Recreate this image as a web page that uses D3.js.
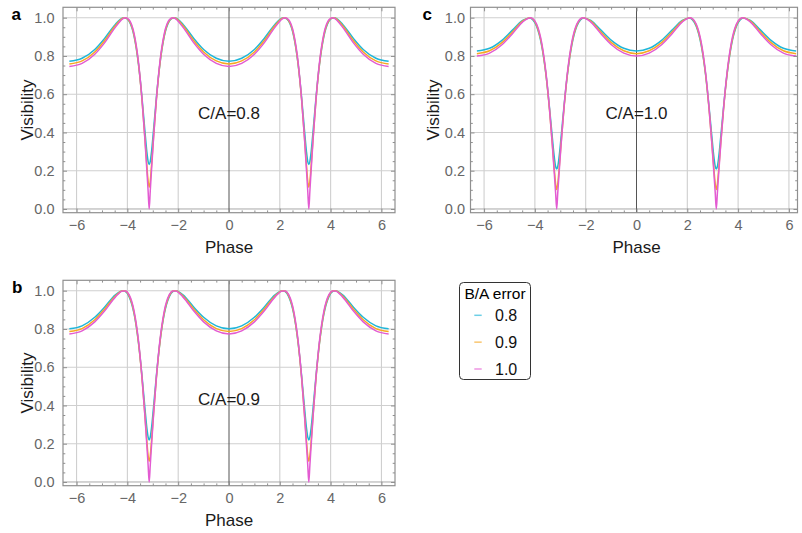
<!DOCTYPE html>
<html><head><meta charset="utf-8">
<script src="https://cdn.jsdelivr.net/npm/d3@7"></script>
<style>
body{margin:0;background:#fff;}
svg{display:block;font-family:"Liberation Sans",Arial,sans-serif;}
</style></head><body>
<svg id="chart" width="802" height="533"></svg>
<script>
// ---------------- data ----------------
const phase = [-6.2832,-5.7832,-5.2832,-4.8832,-4.4832,-4.1832,-4.0832,-3.9332,-3.7332,-3.5632,-3.4232,-3.3132,-3.2332,-3.1832,-3.1416,
 -3.1,-3.05,-2.97,-2.86,-2.72,-2.55,-2.35,-2.2,-2.1,-1.8,-1.4,-1.0,-0.5,0,
 0.5,1.0,1.4,1.8,2.1,2.2,2.35,2.55,2.72,2.86,2.97,3.05,3.1,3.1416,
 3.1832,3.2332,3.3132,3.4232,3.5632,3.7332,3.9332,4.0832,4.1832,4.4832,4.8832,5.2832,5.7832,6.2832];

// panel a : C/A = 0.8
const visA08 = [0.772,0.788,0.834,0.894,0.963,0.998,0.999,0.982,0.901,0.757,0.580,0.413,0.298,0.248,0.233,
 0.248,0.298,0.413,0.580,0.757,0.901,0.982,0.999,0.998,0.963,0.894,0.834,0.788,0.772,
 0.788,0.834,0.894,0.963,0.998,0.999,0.982,0.901,0.757,0.580,0.413,0.298,0.248,0.233,
 0.248,0.298,0.413,0.580,0.757,0.901,0.982,0.999,0.998,0.963,0.894,0.834,0.788,0.772];
const visA09 = [0.758,0.774,0.821,0.882,0.956,0.997,1.000,0.985,0.907,0.759,0.567,0.376,0.227,0.145,0.114,
 0.145,0.227,0.376,0.567,0.759,0.907,0.985,1.000,0.997,0.956,0.882,0.821,0.774,0.758,
 0.774,0.821,0.882,0.956,0.997,1.000,0.985,0.907,0.759,0.567,0.376,0.227,0.145,0.114,
 0.145,0.227,0.376,0.567,0.759,0.907,0.985,1.000,0.997,0.956,0.882,0.821,0.774,0.758];
const visA10 = [0.745,0.761,0.809,0.871,0.948,0.994,1.000,0.989,0.915,0.768,0.571,0.370,0.203,0.093,0.000,
 0.093,0.203,0.370,0.571,0.768,0.915,0.989,1.000,0.994,0.948,0.871,0.809,0.761,0.745,
 0.761,0.809,0.871,0.948,0.994,1.000,0.989,0.915,0.768,0.571,0.370,0.203,0.093,0.000,
 0.093,0.203,0.370,0.571,0.768,0.915,0.989,1.000,0.994,0.948,0.871,0.809,0.761,0.745];

// panel b : C/A = 0.9
const visB08 = [0.801,0.816,0.861,0.916,0.977,1.000,0.996,0.969,0.877,0.728,0.552,0.392,0.282,0.234,0.220,
 0.234,0.282,0.392,0.552,0.728,0.877,0.969,0.996,1.000,0.977,0.916,0.861,0.816,0.801,
 0.816,0.861,0.916,0.977,1.000,0.996,0.969,0.877,0.728,0.552,0.392,0.282,0.234,0.220,
 0.234,0.282,0.392,0.552,0.728,0.877,0.969,0.996,1.000,0.977,0.916,0.861,0.816,0.801];
const visB09 = [0.787,0.802,0.848,0.906,0.971,1.000,0.998,0.974,0.883,0.729,0.540,0.356,0.214,0.137,0.108,
 0.137,0.214,0.356,0.540,0.729,0.883,0.974,0.998,1.000,0.971,0.906,0.848,0.802,0.787,
 0.802,0.848,0.906,0.971,1.000,0.998,0.974,0.883,0.729,0.540,0.356,0.214,0.137,0.108,
 0.137,0.214,0.356,0.540,0.729,0.883,0.974,0.998,1.000,0.971,0.906,0.848,0.802,0.787];
const visB10 = [0.774,0.790,0.837,0.896,0.965,0.999,0.999,0.979,0.892,0.739,0.544,0.350,0.191,0.087,0.000,
 0.087,0.191,0.350,0.544,0.739,0.892,0.979,0.999,0.999,0.965,0.896,0.837,0.790,0.774,
 0.790,0.837,0.896,0.965,0.999,0.999,0.979,0.892,0.739,0.544,0.350,0.191,0.087,0.000,
 0.087,0.191,0.350,0.544,0.739,0.892,0.979,0.999,0.999,0.965,0.896,0.837,0.790,0.774];

// panel c : C/A = 1.0
const visC08 = [0.826,0.840,0.883,0.935,0.986,0.999,0.989,0.955,0.854,0.702,0.528,0.373,0.268,0.222,0.209,
 0.222,0.268,0.373,0.528,0.702,0.854,0.955,0.989,0.999,0.986,0.935,0.883,0.840,0.826,
 0.840,0.883,0.935,0.986,0.999,0.989,0.955,0.854,0.702,0.528,0.373,0.268,0.222,0.209,
 0.222,0.268,0.373,0.528,0.702,0.854,0.955,0.989,0.999,0.986,0.935,0.883,0.840,0.826];
const visC09 = [0.812,0.827,0.871,0.925,0.982,1.000,0.993,0.961,0.861,0.703,0.516,0.339,0.204,0.130,0.102,
 0.130,0.204,0.339,0.516,0.703,0.861,0.961,0.993,1.000,0.982,0.925,0.871,0.827,0.812,
 0.827,0.871,0.925,0.982,1.000,0.993,0.961,0.861,0.703,0.516,0.339,0.204,0.130,0.102,
 0.130,0.204,0.339,0.516,0.703,0.861,0.961,0.993,1.000,0.982,0.925,0.871,0.827,0.812];
const visC10 = [0.800,0.815,0.860,0.916,0.977,1.000,0.995,0.967,0.870,0.712,0.520,0.333,0.182,0.083,0.000,
 0.083,0.182,0.333,0.520,0.712,0.870,0.967,0.995,1.000,0.977,0.916,0.860,0.815,0.800,
 0.815,0.860,0.916,0.977,1.000,0.995,0.967,0.870,0.712,0.520,0.333,0.182,0.083,0.000,
 0.083,0.182,0.333,0.520,0.712,0.870,0.967,0.995,1.000,0.977,0.916,0.860,0.815,0.800];

const baSeries = ["0.8", "0.9", "1.0"];          // legend entries (B/A error)
const caLabels = ["C/A=0.8", "C/A=0.9", "C/A=1.0"];
const xTicks = [-6, -4, -2, 0, 2, 4, 6];
const yTicks = [0, 0.2, 0.4, 0.6, 0.8, 1.0];
const colors = ["#1fb6d8", "#f6a823", "#e35bd2"];

// ---------------- layout ----------------
const svg = d3.select("#chart");
const FONT = "'Liberation Sans',Arial,sans-serif";
const frameCol = "#8f8f8f";
const panels = [
  {letter:"a", label:caLabels[0], series:[visA08, visA09, visA10], left:63, top:7.3, bottom:212.7, right:395,
   yPad:8.5, labelV:0.5, letterX:11.5, letterY:19.5, ylabX:33, phaseY:252.5},
  {letter:"b", label:caLabels[1], series:[visB08, visB09, visB10], left:63, top:280.3, bottom:485.7, right:395,
   yPad:8.5, labelV:0.435, letterX:12, letterY:293, ylabX:33, phaseY:526},
  {letter:"c", label:caLabels[2], series:[visC08, visC09, visC10], left:470.5, top:7.3, bottom:212.7, right:797.5,
   yPad:5.5, labelV:0.5, letterX:422.5, letterY:19.5, ylabX:438.5, phaseY:252.5}
];
const xDomain = [-6.534, 6.534];
const yDomain = [-0.0195, 1.0543];
const fmtX = d => d < 0 ? "\u2212" + Math.abs(d) : String(d);

function styleAxis(sel, fs) {
  sel.select(".domain").remove();
  sel.selectAll(".tick line").attr("stroke", frameCol).attr("stroke-width", 1);
  sel.selectAll(".tick text").attr("fill", "#666").style("font-size", fs + "px").style("font-family", FONT);
}

panels.forEach(p => {
  const g = svg.append("g");
  const x = d3.scaleLinear().domain(xDomain).range([p.left, p.left + 332]);
  const y = d3.scaleLinear().domain(yDomain).range([p.bottom, p.top]);
  const xMinor = d3.range(-13, 14).map(i => i * 0.5)
     .filter(v => Math.abs(v % 2) > 1e-9 && x(v) > p.left + 1 && x(v) < p.right - 1);
  const yMinor = d3.range(0, 22).map(i => i * 0.05)
     .filter(v => Math.abs((v / 0.2) - Math.round(v / 0.2)) > 1e-6 && y(v) > p.top + 1);

  // grid
  g.selectAll(".gx").data(xTicks.filter(d => d !== 0)).join("line")
    .attr("x1", d => x(d)).attr("x2", d => x(d)).attr("y1", p.top).attr("y2", p.bottom)
    .attr("stroke", "#cfcfcf").attr("stroke-width", 1.1);
  g.selectAll(".gy").data(yTicks.filter(d => d !== 0)).join("line")
    .attr("x1", p.left).attr("x2", p.right).attr("y1", d => y(d)).attr("y2", d => y(d))
    .attr("stroke", "#cfcfcf").attr("stroke-width", 1.1);
  // axes lines through origin
  g.append("line").attr("x1", p.left).attr("x2", p.right).attr("y1", y(0)).attr("y2", y(0))
    .attr("stroke", "#a8a8a8").attr("stroke-width", 1);
  g.append("line").attr("x1", x(0)).attr("x2", x(0)).attr("y1", p.top).attr("y2", p.bottom)
    .attr("stroke", "#555").attr("stroke-width", 1);

  // curves
  const line = d3.line().x((d, i) => x(phase[i])).y(d => y(d)).curve(d3.curveMonotoneX);
  p.series.forEach((s, k) => {
    g.append("path").attr("d", line(s)).attr("fill", "none")
      .attr("stroke", colors[k]).attr("stroke-width", 1.5);
  });

  // frame ticks
  g.append("g").attr("transform", `translate(0,${p.bottom})`)
    .call(d3.axisBottom(x).tickValues(xTicks).tickSize(-4).tickPadding(7).tickFormat(fmtX))
    .call(s => styleAxis(s, 14.5));
  g.append("g").attr("transform", `translate(0,${p.bottom})`)
    .call(d3.axisBottom(x).tickValues(xMinor).tickSize(-2.3).tickFormat(""))
    .call(s => styleAxis(s, 14.5));
  g.append("g").attr("transform", `translate(0,${p.top})`)
    .call(d3.axisTop(x).tickValues(xTicks).tickSize(-4).tickFormat(""))
    .call(s => styleAxis(s, 14.5));
  g.append("g").attr("transform", `translate(0,${p.top})`)
    .call(d3.axisTop(x).tickValues(xMinor).tickSize(-2.3).tickFormat(""))
    .call(s => styleAxis(s, 14.5));
  g.append("g").attr("transform", `translate(${p.left},0)`)
    .call(d3.axisLeft(y).tickValues(yTicks).tickSize(-4).tickPadding(p.yPad).tickFormat(d3.format(".1f")))
    .call(s => styleAxis(s, 14.5));
  g.append("g").attr("transform", `translate(${p.left},0)`)
    .call(d3.axisLeft(y).tickValues(yMinor).tickSize(-2.3).tickFormat(""))
    .call(s => styleAxis(s, 14.5));
  g.append("g").attr("transform", `translate(${p.right},0)`)
    .call(d3.axisRight(y).tickValues(yTicks).tickSize(-4).tickFormat(""))
    .call(s => styleAxis(s, 14.5));
  g.append("g").attr("transform", `translate(${p.right},0)`)
    .call(d3.axisRight(y).tickValues(yMinor).tickSize(-2.3).tickFormat(""))
    .call(s => styleAxis(s, 14.5));

  // frame
  g.append("rect").attr("x", p.left).attr("y", p.top)
    .attr("width", p.right - p.left).attr("height", p.bottom - p.top)
    .attr("fill", "none").attr("stroke", frameCol).attr("stroke-width", 1.2);

  // texts
  g.append("text").attr("x", x(0)).attr("y", p.phaseY).attr("text-anchor", "middle")
    .style("font-size", "17px").attr("fill", "#1a1a1a").text("Phase");
  g.append("text").attr("transform", `translate(${p.ylabX},${(p.top + p.bottom) / 2}) rotate(-90)`)
    .attr("text-anchor", "middle").style("font-size", "17px").attr("fill", "#1a1a1a").text("Visibility");
  g.append("text").attr("x", x(0)).attr("y", y(p.labelV)).attr("dy", "0.35em").attr("text-anchor", "middle")
    .style("font-size", "17px").attr("fill", "#1a1a1a").text(p.label);
  g.append("text").attr("x", p.letterX).attr("y", p.letterY)
    .style("font-size", "17px").style("font-weight", "bold").attr("fill", "#000").text(p.letter);
});

// ---------------- legend ----------------
const lg = svg.append("g");
lg.append("rect").attr("x", 459.5).attr("y", 282.5).attr("width", 71).attr("height", 97).attr("rx", 4)
  .attr("fill", "#fff").attr("stroke", "#333").attr("stroke-width", 1);
lg.append("text").attr("x", 495).attr("y", 299).attr("text-anchor", "middle")
  .style("font-size", "15.5px").attr("fill", "#000").text("B/A error");
const rowY = d3.scalePoint().domain(baSeries).range([315.3, 369]);
lg.selectAll(".sw").data(baSeries).join("line")
  .attr("x1", 474.3).attr("x2", 481.7).attr("y1", d => rowY(d)).attr("y2", d => rowY(d))
  .attr("stroke", (d, i) => colors[i]).attr("stroke-width", 1.5).attr("stroke-opacity", 0.65);
lg.selectAll(".lt").data(baSeries).join("text")
  .attr("x", 495).attr("y", d => rowY(d)).attr("dy", "0.35em")
  .style("font-size", "16px").attr("fill", "#111").text(d => d);
</script>
</body></html>
